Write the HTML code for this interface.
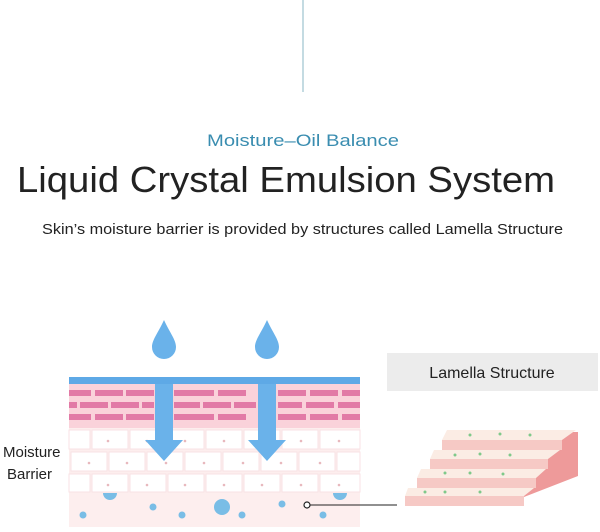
<!DOCTYPE html>
<html><head><style>
body{margin:0;width:600px;height:527px;background:#fff;overflow:hidden;font-family:"Liberation Sans",sans-serif}
</style></head><body>
<svg width="600" height="527" viewBox="0 0 600 527" xmlns="http://www.w3.org/2000/svg" font-family="Liberation Sans, sans-serif">
<line x1="303" y1="0" x2="303" y2="92" stroke="#9cc3cf" stroke-width="1.2"/>
<text x="207" y="146" font-size="17" fill="#3a8db0" textLength="192" lengthAdjust="spacingAndGlyphs">Moisture–Oil Balance</text>
<text x="17" y="192" font-size="36" fill="#222" textLength="538" lengthAdjust="spacingAndGlyphs">Liquid Crystal Emulsion System</text>
<text x="42" y="234" font-size="15" fill="#222" textLength="521" lengthAdjust="spacingAndGlyphs">Skin’s moisture barrier is provided by structures called Lamella Structure</text>

<rect x="69" y="384" width="291" height="143" fill="#fdeeee"/>
<rect x="69" y="384" width="291" height="44" fill="#fad2da"/>
<g fill="#e27aa6">
<rect x="69" y="390" width="22" height="6"/><rect x="95" y="390" width="28" height="6"/><rect x="126" y="390" width="28" height="6"/><rect x="174" y="390" width="40" height="6"/><rect x="218" y="390" width="28" height="6"/><rect x="278" y="390" width="28" height="6"/><rect x="310" y="390" width="28" height="6"/><rect x="342" y="390" width="18" height="6"/>
<rect x="69" y="402" width="8" height="6"/><rect x="80" y="402" width="28" height="6"/><rect x="111" y="402" width="28" height="6"/><rect x="142" y="402" width="12" height="6"/><rect x="174" y="402" width="26" height="6"/><rect x="203" y="402" width="28" height="6"/><rect x="234" y="402" width="22" height="6"/><rect x="278" y="402" width="24" height="6"/><rect x="306" y="402" width="28" height="6"/><rect x="338" y="402" width="22" height="6"/>
<rect x="69" y="414" width="22" height="6"/><rect x="95" y="414" width="28" height="6"/><rect x="126" y="414" width="28" height="6"/><rect x="174" y="414" width="40" height="6"/><rect x="218" y="414" width="28" height="6"/><rect x="278" y="414" width="28" height="6"/><rect x="310" y="414" width="28" height="6"/><rect x="342" y="414" width="18" height="6"/>
</g>
<g fill="#fff" stroke="#f8e2e4" stroke-width="1">
<rect x="69" y="430" width="21" height="19"/><rect x="92" y="430" width="36" height="19"/><rect x="130" y="430" width="36" height="19"/><rect x="168" y="430" width="36" height="19"/><rect x="206" y="430" width="36" height="19"/><rect x="244" y="430" width="36" height="19"/><rect x="282" y="430" width="36" height="19"/><rect x="320" y="430" width="40" height="19"/>
<rect x="71" y="452" width="36" height="19"/><rect x="109" y="452" width="36" height="19"/><rect x="147" y="452" width="36" height="19"/><rect x="185" y="452" width="36" height="19"/><rect x="223" y="452" width="36" height="19"/><rect x="261" y="452" width="36" height="19"/><rect x="299" y="452" width="36" height="19"/><rect x="337" y="452" width="23" height="19"/>
<rect x="69" y="474" width="21" height="18"/><rect x="92" y="474" width="36" height="18"/><rect x="130" y="474" width="36" height="18"/><rect x="168" y="474" width="36" height="18"/><rect x="206" y="474" width="36" height="18"/><rect x="244" y="474" width="36" height="18"/><rect x="282" y="474" width="36" height="18"/><rect x="320" y="474" width="40" height="18"/>
</g>
<g fill="#e8b8bd">
<circle cx="108" cy="441" r="1.3"/><circle cx="147" cy="441" r="1.3"/><circle cx="185" cy="441" r="1.3"/><circle cx="224" cy="441" r="1.3"/><circle cx="301" cy="441" r="1.3"/><circle cx="339" cy="441" r="1.3"/>
<circle cx="89" cy="463" r="1.3"/><circle cx="127" cy="463" r="1.3"/><circle cx="166" cy="463" r="1.3"/><circle cx="204" cy="463" r="1.3"/><circle cx="243" cy="463" r="1.3"/><circle cx="281" cy="463" r="1.3"/><circle cx="320" cy="463" r="1.3"/>
<circle cx="108" cy="485" r="1.3"/><circle cx="147" cy="485" r="1.3"/><circle cx="185" cy="485" r="1.3"/><circle cx="224" cy="485" r="1.3"/><circle cx="262" cy="485" r="1.3"/><circle cx="301" cy="485" r="1.3"/><circle cx="339" cy="485" r="1.3"/>
</g>
<g fill="#79bde6">
<path d="M103 493 a7 7 0 0 0 14 0z"/><path d="M333 493 a7 7 0 0 0 14 0z"/>
<circle cx="153" cy="507" r="3.5"/><circle cx="222" cy="507" r="8"/><circle cx="282" cy="504" r="3.5"/><circle cx="83" cy="515" r="3.5"/><circle cx="182" cy="515" r="3.5"/><circle cx="242" cy="515" r="3.5"/><circle cx="323" cy="515" r="3.5"/>
</g>
<rect x="69" y="377" width="291" height="7" fill="#5ea9e6"/>
<path d="M155 384 h18 v56 h10 l-19 21 l-19 -21 h10z" fill="#6ab2ea"/>
<path d="M258 384 h18 v56 h10 l-19 21 l-19 -21 h10z" fill="#6ab2ea"/>
<path d="M164 320 C158 333 152 340 152 347 a12 12 0 0 0 24 0 C176 340 170 333 164 320z" fill="#6ab2ea"/>
<path d="M267 320 C261 333 255 340 255 347 a12 12 0 0 0 24 0 C279 340 273 333 267 320z" fill="#6ab2ea"/>
<line x1="310" y1="505" x2="397" y2="505" stroke="#222" stroke-width="1"/>
<circle cx="307" cy="505" r="3" fill="#fff" stroke="#222" stroke-width="1.2"/>
<text x="3" y="457" font-size="15" fill="#222">Moisture</text>
<text x="7" y="479" font-size="15" fill="#222">Barrier</text>

<rect x="387" y="353" width="211" height="38" fill="#ececec"/>
<text x="492" y="378" text-anchor="middle" font-size="16" fill="#222">Lamella Structure</text>

<path d="M524 432 L578 432 L578 476 L524 497z" fill="#ee9a9a"/>
<g>
<path d="M447 430 L576 430 L562 440 L442 440z" fill="#fbece4"/>
<rect x="442" y="440" width="120" height="10" fill="#f6c9c5"/>
<path d="M434 450 L560 450 L548 459 L430 459z" fill="#fbece4"/>
<rect x="430" y="459" width="118" height="10" fill="#f6c9c5"/>
<path d="M421 469 L546 469 L536 478 L417 478z" fill="#fbece4"/>
<rect x="417" y="478" width="119" height="10" fill="#f6c9c5"/>
<path d="M408 488 L534 488 L524 496 L405 496z" fill="#fbece4"/>
<rect x="405" y="496" width="119" height="10" fill="#f6c9c5"/>
</g>
<g fill="#7fc98a">
<circle cx="470" cy="435" r="1.5"/><circle cx="500" cy="434" r="1.5"/><circle cx="530" cy="435" r="1.5"/><circle cx="455" cy="455" r="1.5"/><circle cx="480" cy="454" r="1.5"/><circle cx="510" cy="455" r="1.5"/><circle cx="445" cy="473" r="1.5"/><circle cx="470" cy="473" r="1.5"/><circle cx="503" cy="474" r="1.5"/><circle cx="425" cy="492" r="1.5"/><circle cx="445" cy="492" r="1.5"/><circle cx="480" cy="492" r="1.5"/>
</g>
</svg>
</body></html>
